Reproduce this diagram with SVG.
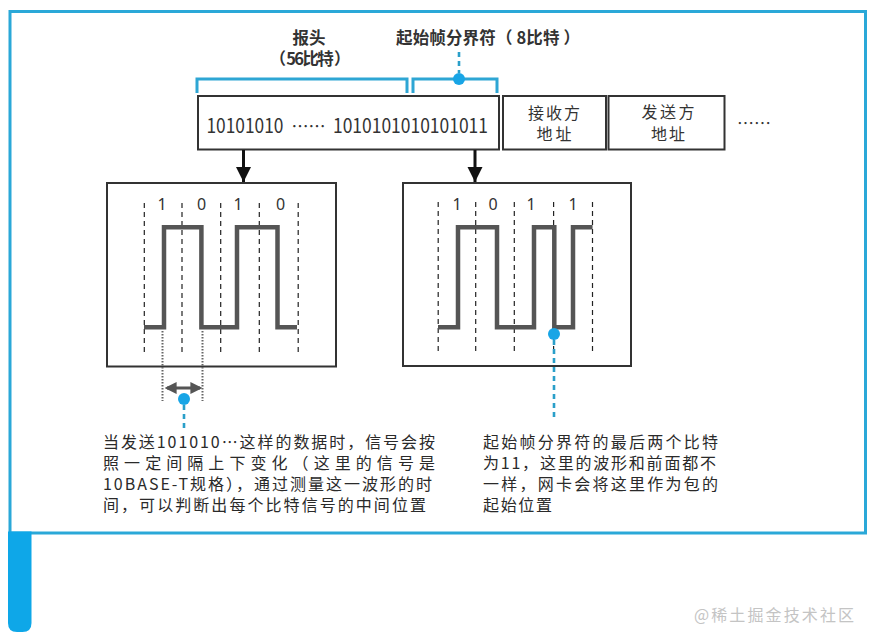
<svg xmlns="http://www.w3.org/2000/svg" width="874" height="644" viewBox="0 0 874 644">
<style>
.t{font-family:"Noto Sans CJK SC","Noto Sans",sans-serif;fill:#333}
.b{font-weight:bold}
.box{fill:#fff;stroke:#333;stroke-width:2}
.dash{stroke:#222;stroke-width:1.2;stroke-dasharray:5 4;fill:none}
.wave{stroke:#555;stroke-width:4.5;fill:none;stroke-linejoin:miter}
.bl{stroke:#2ea6d4;stroke-width:3;fill:none}
.bd{stroke:#2a9fc9;stroke-width:2.6;stroke-dasharray:5 4;fill:none}
.dot{fill:#18a5e6}
.bit{font-family:"Noto Sans","Liberation Sans",sans-serif;font-size:16px;fill:#333;text-anchor:middle}
.p{font-family:"Noto Sans CJK SC",sans-serif;font-size:16px;fill:#2a2a2a}
</style>
<defs>
<marker id="ah" viewBox="0 0 10 10" refX="10" refY="5" markerWidth="5" markerHeight="6" markerUnits="strokeWidth" orient="auto"><path d="M0,0 L10,5 L0,10 Z" fill="#111"/></marker>
<marker id="ga" viewBox="0 0 10 10" refX="8" refY="5" markerWidth="4" markerHeight="4.5" markerUnits="strokeWidth" orient="auto-start-reverse"><path d="M0,0 L10,5 L0,10 Z" fill="#555"/></marker>
</defs>
<rect width="874" height="644" fill="#fff"/>
<g id="frame">
<rect x="10" y="11.5" width="855.5" height="521.5" fill="none" stroke="#2aa8d8" stroke-width="3"/>
<path d="M8,531.5 H31.5 V623 Q31.5,632 22.5,632 H17 Q8,632 8,623 Z" fill="#0ea7e8"/>
</g>
<g id="header-labels">
<text class="t b" x="309" y="44" font-size="16.5" text-anchor="middle">报头</text>
<text class="t b" x="310" y="65" font-size="16.5" text-anchor="middle" textLength="81" lengthAdjust="spacing">（ 56比特 ）</text>
<text class="t b" x="488" y="44" font-size="16.5" text-anchor="middle" textLength="184" lengthAdjust="spacing">起始帧分界符（ 8比特 ）</text>
</g>
<g id="brackets">
<path class="bl" d="M197,93 V79 H407 V93"/>
<path class="bl" d="M413,93 V79 H497 V93"/>
<line class="bd" x1="459" y1="52" x2="459" y2="73"/>
<circle class="dot" cx="459" cy="79" r="6"/>
</g>
<g id="preamble-box">
<rect class="box" x="198" y="96" width="301" height="53.5"/>
<text class="t" x="206.5" y="133" font-size="20" textLength="77" lengthAdjust="spacingAndGlyphs">10101010</text>
<text class="t" x="291.5" y="133" font-size="17" textLength="34" lengthAdjust="spacingAndGlyphs">……</text>
<text class="t" x="333" y="133" font-size="20" textLength="155" lengthAdjust="spacingAndGlyphs">1010101010101011</text>
</g>
<g id="dst-box">
<rect class="box" x="503" y="96" width="103" height="53.5"/>
<text class="t" x="554" y="118.5" font-size="16" text-anchor="middle" textLength="52" lengthAdjust="spacing">接收方</text>
<text class="t" x="554" y="139.5" font-size="16" text-anchor="middle" textLength="35" lengthAdjust="spacing">地址</text>
</g>
<g id="src-box">
<rect class="box" x="608.5" y="96" width="116" height="53.5"/>
<text class="t" x="668" y="118" font-size="16" text-anchor="middle" textLength="53" lengthAdjust="spacing">发送方</text>
<text class="t" x="668" y="139.5" font-size="16" text-anchor="middle" textLength="34" lengthAdjust="spacing">地址</text>
</g>
<g id="more">
<text class="t" x="737" y="129" font-size="16" textLength="34" lengthAdjust="spacingAndGlyphs">……</text>
</g>
<g id="connectors">
<line x1="243.5" y1="150" x2="243.5" y2="182" stroke="#111" stroke-width="3" marker-end="url(#ah)"/>
<line x1="475" y1="150" x2="475" y2="182" stroke="#111" stroke-width="3" marker-end="url(#ah)"/>
</g>
<g id="wave-left">
<rect class="box" x="107" y="183" width="229" height="183.5"/>
<line class="dash" x1="144.3" y1="203" x2="144.3" y2="353"/>
<line class="dash" x1="182" y1="203" x2="182" y2="353"/>
<line class="dash" x1="220.7" y1="203" x2="220.7" y2="353"/>
<line class="dash" x1="259.3" y1="203" x2="259.3" y2="353"/>
<line class="dash" x1="298.2" y1="203" x2="298.2" y2="353"/>
<text class="bit" x="162" y="210">1</text>
<text class="bit" x="201.5" y="210">0</text>
<text class="bit" x="238" y="210">1</text>
<text class="bit" x="280.5" y="210">0</text>
<path class="wave" d="M144,327.3 H164 V227.3 H201.4 V327.3 H237 V227.3 H277.5 V327.3 H297"/>
</g>
<g id="wave-right">
<rect class="box" x="403" y="183" width="228" height="183"/>
<line class="dash" x1="438.2" y1="202" x2="438.2" y2="352"/>
<line class="dash" x1="475.7" y1="202" x2="475.7" y2="352"/>
<line class="dash" x1="514.3" y1="202" x2="514.3" y2="352"/>
<line class="dash" x1="553.6" y1="202" x2="553.6" y2="352"/>
<line class="dash" x1="592.5" y1="202" x2="592.5" y2="352"/>
<text class="bit" x="457" y="210">1</text>
<text class="bit" x="493" y="210">0</text>
<text class="bit" x="531" y="210">1</text>
<text class="bit" x="573" y="210">1</text>
<path class="wave" d="M438,327.3 H458 V227.3 H497 V327.3 H534 V227.3 H554.3 V327.3 H573 V227.3 H592.5"/>
</g>
<g id="measure">
<line x1="162.5" y1="331" x2="162.5" y2="401" stroke="#666" stroke-width="2" stroke-dasharray="1.5 1.5"/>
<line x1="202.5" y1="331" x2="202.5" y2="401" stroke="#666" stroke-width="2" stroke-dasharray="1.5 1.5"/>
<line x1="167" y1="388" x2="200" y2="388" stroke="#555" stroke-width="3" marker-start="url(#ga)" marker-end="url(#ga)"/>
<line class="bd" x1="184" y1="405" x2="184" y2="428"/>
<circle class="dot" cx="184" cy="399" r="6"/>
</g>
<g id="sfd-mark">
<line class="bd" x1="554" y1="340" x2="554" y2="418"/>
<circle class="dot" cx="554" cy="334" r="6"/>
</g>
<g id="note-left">
<text class="p" x="103" y="447.5" textLength="332" lengthAdjust="spacing">当发送101010…这样的数据时，信号会按</text>
<text class="p" x="103" y="468.5" textLength="332" lengthAdjust="spacing">照一定间隔上下变化（这里的信号是</text>
<text class="p" x="103" y="489.5" textLength="329" lengthAdjust="spacing">10BASE-T规格），通过测量这一波形的时</text>
<text class="p" x="103" y="510.5" textLength="323" lengthAdjust="spacing">间，可以判断出每个比特信号的中间位置</text>
</g>
<g id="note-right">
<text class="p" x="483" y="447.5" textLength="235" lengthAdjust="spacing">起始帧分界符的最后两个比特</text>
<text class="p" x="483" y="468.5" textLength="233" lengthAdjust="spacing">为11，这里的波形和前面都不</text>
<text class="p" x="483" y="489.5" textLength="235" lengthAdjust="spacing">一样，网卡会将这里作为包的</text>
<text class="p" x="483" y="510.5" textLength="69" lengthAdjust="spacing">起始位置</text>
</g>
<g id="watermark">
<text x="694" y="621" font-family="Noto Sans CJK SC,sans-serif" font-size="16" fill="#c4c4c4" textLength="160" lengthAdjust="spacing">@稀土掘金技术社区</text>
</g>
</svg>
